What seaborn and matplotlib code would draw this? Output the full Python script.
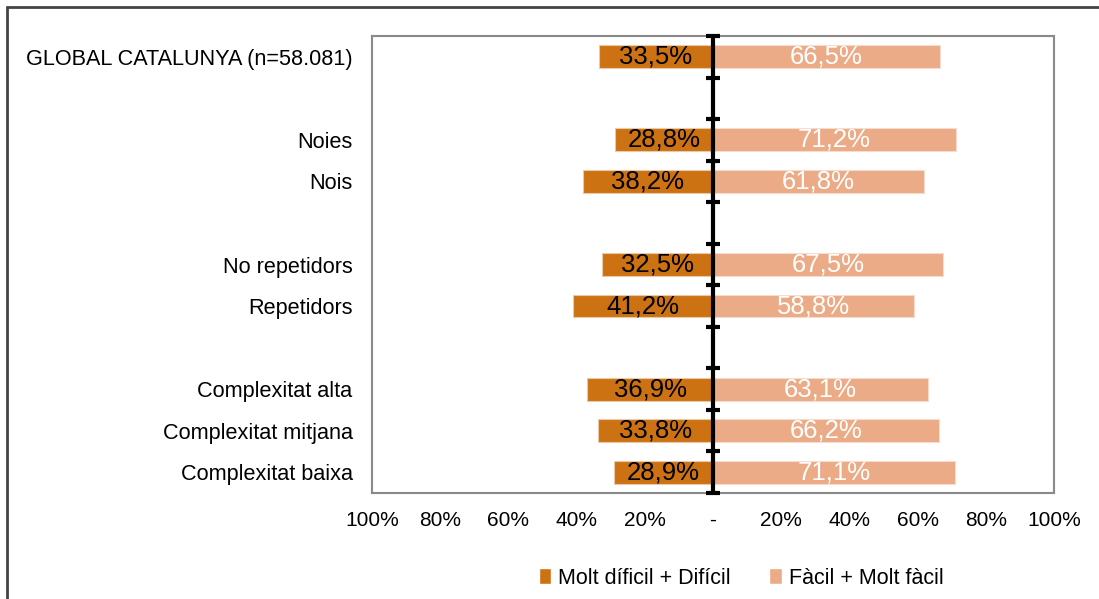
import numpy as np
import pandas as pd
import matplotlib.pyplot as plt
import seaborn as sns
from matplotlib.patches import Patch
from matplotlib.lines import Line2D

sns.set_theme(style="white")
plt.rcParams["font.family"] = ["Liberation Sans", "DejaVu Sans"]
plt.rcParams["text.color"] = "black"
plt.rcParams["xtick.color"] = "black"
plt.rcParams["ytick.color"] = "black"

# rows, top to bottom (blank entries are the empty separator rows)
rows = ["GLOBAL CATALUNYA (n=58.081)", " ",
        "Noies", "Nois", "  ",
        "No repetidors", "Repetidors", "   ",
        "Complexitat alta", "Complexitat mitjana", "Complexitat baixa"]
cats = ["GLOBAL CATALUNYA (n=58.081)", "Noies", "Nois", "No repetidors",
        "Repetidors", "Complexitat alta", "Complexitat mitjana", "Complexitat baixa"]
dificil = [33.5, 28.8, 38.2, 32.5, 41.2, 36.9, 33.8, 28.9]
facil = [66.5, 71.2, 61.8, 67.5, 58.8, 63.1, 66.2, 71.1]
series = ["Molt díficil + Difícil", "Fàcil + Molt fàcil"]
xticks = [-100, -80, -60, -40, -20, 0, 20, 40, 60, 80, 100]
xlabels = ["100%", "80%", "60%", "40%", "20%", "-", "20%", "40%", "60%", "80%", "100%"]

c_dark = "#CD7212"
c_light = "#EBAB86"

df = pd.concat([
    pd.DataFrame({"cat": cats, "serie": series[0], "val": [-v for v in dificil]}),
    pd.DataFrame({"cat": cats, "serie": series[1], "val": facil}),
])

fig = plt.figure(figsize=(10.99, 5.99), dpi=100)
ax = fig.add_axes([372 / 1099, 1 - 493 / 599, 682 / 1099, 457 / 599])

sns.barplot(data=df, x="val", y="cat", hue="serie", order=rows, hue_order=series,
            palette=[c_dark, c_light], saturation=1, dodge=False, width=0.55,
            errorbar=None, orient="h", ax=ax, legend=False)

for i, cont in enumerate(ax.containers):
    for b in cont:
        b.set_edgecolor("#f6dccd" if i == 1 else "#e9c9a8")
        b.set_linewidth(0.8)
    ax.bar_label(cont, fmt=lambda v: f"{abs(v):.1f}%".replace(".", ","),
                 label_type="center", fontsize=18.5,
                 color="black" if i == 0 else "white")

ax.set_xlim(-100, 100)
ax.set_ylim(len(rows) - 0.5, -0.5)
ax.set_xticks(xticks)
ax.set_xticklabels(xlabels)
ax.tick_params(axis="x", length=0, pad=13, labelsize=15)
ax.tick_params(axis="y", length=0, pad=14, labelsize=15.6)
ax.set_xlabel("")
ax.set_ylabel("")
for s in ax.spines.values():
    s.set_color("#8a8a8a")
    s.set_linewidth(1.5)

# central axis with small marks between rows
ax.axvline(0, color="black", lw=3, zorder=5)
bounds = np.arange(len(rows) + 1) - 0.5
ax.plot(np.zeros_like(bounds), bounds, ls="none", marker="_", ms=9.5, mew=3,
        color="black", zorder=6, clip_on=False)

handles = [Patch(facecolor=c_dark), Patch(facecolor=c_light)]
fig.legend(handles, series, loc="center", bbox_to_anchor=(741 / 1099, 1 - 578 / 599),
           ncol=2, frameon=False, fontsize=15.5, handlelength=0.6, handleheight=0.7,
           handletextpad=0.3, columnspacing=1.8)

# outer frame (top and left edges visible)
fig.add_artist(Line2D([7 / 1099, 1.01], [1 - 7 / 599, 1 - 7 / 599], color="#444444", lw=2))
fig.add_artist(Line2D([7 / 1099, 7 / 1099], [-0.01, 1 - 7 / 599], color="#444444", lw=2))

fig.savefig("out.png", dpi=100)
